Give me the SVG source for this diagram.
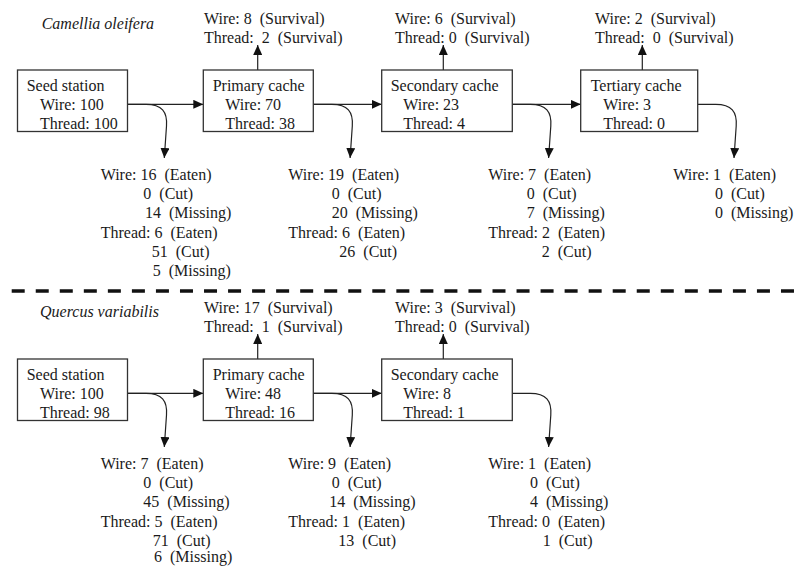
<svg xmlns="http://www.w3.org/2000/svg" width="803" height="566" viewBox="0 0 803 566" xml:space="preserve">
<style>
text{font-family:"Liberation Serif","Times New Roman",serif;font-size:16px;fill:#1a1a1a;white-space:pre}
.title{font-style:italic}
.box{fill:#fff;stroke:#333;stroke-width:1.3}
.ln{fill:none;stroke:#222;stroke-width:1.2}
.dash{fill:none;stroke:#111;stroke-width:3.4;stroke-dasharray:13 11.04}
</style>
<defs>
<marker id="ah" markerWidth="10" markerHeight="9" refX="10" refY="4.5" orient="auto" markerUnits="userSpaceOnUse"><path d="M0,0 L10,4.5 L0,9 z" fill="#111"/></marker>
</defs>
<rect width="803" height="566" fill="#fff"/>

<text class="title" x="41.7" y="29.3">Camellia oleifera</text>
<text class="title" x="40" y="317">Quercus variabilis</text>

<g id="connectors">
<line class="ln" x1="127.5" y1="104.3" x2="203.3" y2="104.3" marker-end="url(#ah)"/>
<line class="ln" x1="313.3" y1="104.3" x2="381.7" y2="104.3" marker-end="url(#ah)"/>
<line class="ln" x1="512.3" y1="104.3" x2="580.7" y2="104.3" marker-end="url(#ah)"/>
<line class="ln" x1="257.7" y1="70" x2="257.7" y2="45" marker-end="url(#ah)"/>
<line class="ln" x1="443.3" y1="70" x2="443.3" y2="45" marker-end="url(#ah)"/>
<line class="ln" x1="642.3" y1="70" x2="642.3" y2="45" marker-end="url(#ah)"/>
<path class="ln" d="M127.5,104.3 h18.5 c16,0 21.5,7.7 20.5,21.7 l-2.2,32" marker-end="url(#ah)"/>
<path class="ln" d="M313.3,104.3 h18.5 c16,0 21.5,7.7 20.5,21.7 l-2.2,32" marker-end="url(#ah)"/>
<path class="ln" d="M512.3,104.3 h18 c16,0 21.5,7.7 20.5,21.7 l-2.2,32" marker-end="url(#ah)"/>
<path class="ln" d="M697.7,104.3 h18 c16,0 21.5,7.7 20.5,21.7 l-2.2,32" marker-end="url(#ah)"/>
<line class="ln" x1="127.5" y1="393.3" x2="203.3" y2="393.3" marker-end="url(#ah)"/>
<line class="ln" x1="313.3" y1="393.3" x2="381.7" y2="393.3" marker-end="url(#ah)"/>
<line class="ln" x1="257.7" y1="359" x2="257.7" y2="334" marker-end="url(#ah)"/>
<line class="ln" x1="443.3" y1="359" x2="443.3" y2="334" marker-end="url(#ah)"/>
<path class="ln" d="M127.5,393.3 h18.5 c16,0 21.5,7.7 20.5,21.7 l-2.2,32" marker-end="url(#ah)"/>
<path class="ln" d="M313.3,393.3 h18.5 c16,0 21.5,7.7 20.5,21.7 l-2.2,32" marker-end="url(#ah)"/>
<path class="ln" d="M512.3,393.3 h18 c16,0 21.5,7.7 20.5,21.7 l-2.2,32" marker-end="url(#ah)"/>
</g>

<line class="dash" x1="11.7" y1="291" x2="795" y2="291"/>

<g id="co-seed">
<rect class="box" x="17.5" y="70" width="110" height="61.5"/>
<text x="26.7" y="90.5">Seed station</text>
<text x="40" y="109.7">Wire: 100</text>
<text x="40" y="128.9">Thread: 100</text>
</g>
<g id="co-primary">
<rect class="box" x="203.3" y="70" width="110" height="61.5"/>
<text x="212.7" y="90.5">Primary cache</text>
<text x="225.3" y="109.7">Wire: 70</text>
<text x="225.3" y="128.9">Thread: 38</text>
</g>
<g id="co-secondary">
<rect class="box" x="381.7" y="70" width="130.6" height="61.5"/>
<text x="390.7" y="90.5">Secondary cache</text>
<text x="403.3" y="109.7">Wire: 23</text>
<text x="403.3" y="128.9">Thread: 4</text>
</g>
<g id="co-tertiary">
<rect class="box" x="580.7" y="70" width="117" height="61.5"/>
<text x="590.7" y="90.5">Tertiary cache</text>
<text x="603.3" y="109.7">Wire: 3</text>
<text x="603.3" y="128.9">Thread: 0</text>
</g>

<g id="co-survival-primary">
<text x="204" y="24">Wire: 8  (Survival)</text>
<text x="204" y="42.7">Thread:  2  (Survival)</text>
</g>
<g id="co-survival-secondary">
<text x="395" y="24">Wire: 6  (Survival)</text>
<text x="395" y="42.7">Thread: 0  (Survival)</text>
</g>
<g id="co-survival-tertiary">
<text x="595" y="24">Wire: 2  (Survival)</text>
<text x="595" y="42.7">Thread:  0  (Survival)</text>
</g>

<g id="co-loss-seed">
<text x="100.7" y="180">Wire: 16  (Eaten)</text>
<text x="143.3" y="199.2">0  (Cut)</text>
<text x="145" y="218.4">14  (Missing)</text>
<text x="100.7" y="237.6">Thread: 6  (Eaten)</text>
<text x="151.7" y="256.8">51  (Cut)</text>
<text x="152.7" y="276">5  (Missing)</text>
</g>
<g id="co-loss-primary">
<text x="288.3" y="180">Wire: 19  (Eaten)</text>
<text x="331.7" y="199.2">0  (Cut)</text>
<text x="331.7" y="218.4">20  (Missing)</text>
<text x="288.3" y="237.6">Thread: 6  (Eaten)</text>
<text x="339.3" y="256.8">26  (Cut)</text>
</g>
<g id="co-loss-secondary">
<text x="488.3" y="180">Wire: 7  (Eaten)</text>
<text x="526.7" y="199.2">0  (Cut)</text>
<text x="526.7" y="218.4">7  (Missing)</text>
<text x="488.3" y="237.6">Thread: 2  (Eaten)</text>
<text x="541.7" y="256.8">2  (Cut)</text>
</g>
<g id="co-loss-tertiary">
<text x="673.3" y="180">Wire: 1  (Eaten)</text>
<text x="715" y="199.2">0  (Cut)</text>
<text x="715" y="218.4">0  (Missing)</text>
</g>

<g id="qv-seed">
<rect class="box" x="17.5" y="359" width="110" height="61.5"/>
<text x="26.7" y="379.5">Seed station</text>
<text x="40" y="398.7">Wire: 100</text>
<text x="40" y="417.9">Thread: 98</text>
</g>
<g id="qv-primary">
<rect class="box" x="203.3" y="359" width="110" height="61.5"/>
<text x="212.7" y="379.5">Primary cache</text>
<text x="225.3" y="398.7">Wire: 48</text>
<text x="225.3" y="417.9">Thread: 16</text>
</g>
<g id="qv-secondary">
<rect class="box" x="381.7" y="359" width="130.6" height="61.5"/>
<text x="390.7" y="379.5">Secondary cache</text>
<text x="403.3" y="398.7">Wire: 8</text>
<text x="403.3" y="417.9">Thread: 1</text>
</g>

<g id="qv-survival-primary">
<text x="204" y="313">Wire: 17  (Survival)</text>
<text x="204" y="331.7">Thread:  1  (Survival)</text>
</g>
<g id="qv-survival-secondary">
<text x="395" y="313">Wire: 3  (Survival)</text>
<text x="395" y="331.7">Thread: 0  (Survival)</text>
</g>

<g id="qv-loss-seed">
<text x="100.7" y="469">Wire: 7  (Eaten)</text>
<text x="143.3" y="488.2">0  (Cut)</text>
<text x="143.3" y="507.4">45  (Missing)</text>
<text x="100.7" y="526.6">Thread: 5  (Eaten)</text>
<text x="152.7" y="545.8">71  (Cut)</text>
<text x="154" y="562">6  (Missing)</text>
</g>
<g id="qv-loss-primary">
<text x="288.3" y="469">Wire: 9  (Eaten)</text>
<text x="331.7" y="488.2">0  (Cut)</text>
<text x="329.3" y="507.4">14  (Missing)</text>
<text x="288.3" y="526.6">Thread: 1  (Eaten)</text>
<text x="338.3" y="545.8">13  (Cut)</text>
</g>
<g id="qv-loss-secondary">
<text x="488.3" y="469">Wire: 1  (Eaten)</text>
<text x="530" y="488.2">0  (Cut)</text>
<text x="530" y="507.4">4  (Missing)</text>
<text x="488.3" y="526.6">Thread: 0  (Eaten)</text>
<text x="542.7" y="545.8">1  (Cut)</text>
</g>
</svg>
